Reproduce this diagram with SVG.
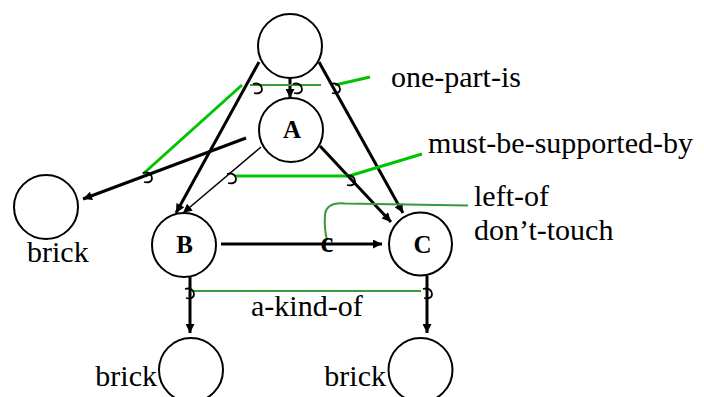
<svg xmlns="http://www.w3.org/2000/svg" xmlns:xlink="http://www.w3.org/1999/xlink" width="704" height="397" viewBox="0 0 704 397">
<defs>
<style>
.node{fill:#fff;stroke:#000;stroke-width:2}
.lbl{font-family:"Liberation Serif","Times New Roman",serif;font-size:30px;fill:#000}
.nlbl{font-family:"Liberation Serif","Times New Roman",serif;font-size:25px;font-weight:bold;fill:#000;text-anchor:middle}
.thick{stroke:#000;stroke-width:3;fill:none}
.thin{stroke:#000;stroke-width:1.5;fill:none}
.g1{stroke:#00c400;stroke-width:3;fill:none}
.g2{stroke:#3a9a3a;stroke-width:2;fill:none}
.hook{stroke:#000;stroke-width:1.8;fill:none}
</style>
<marker id="ah" viewBox="0 0 10 10" refX="10" refY="5" markerWidth="11" markerHeight="9" markerUnits="userSpaceOnUse" orient="auto">
<path d="M0,0 L10,5 L0,10 z" fill="#000"/>
</marker>
<path id="hk" d="M -4 -4 C 3 -6 5 -1 5 1 C 5 5 1 6 -3 5"/>
</defs>
<rect width="704" height="397" fill="#fff"/>
<g id="connectors">
<line class="thick" x1="290" y1="78" x2="290" y2="98" marker-end="url(#ah)"/>
<line class="thick" x1="259" y1="62" x2="176" y2="213" marker-end="url(#ah)"/>
<line class="thick" x1="319" y1="62" x2="403" y2="213" marker-end="url(#ah)"/>
<line class="thin" x1="261" y1="147" x2="183" y2="213" marker-end="url(#ah)"/>
<line class="thick" x1="320" y1="146" x2="391" y2="222" marker-end="url(#ah)"/>
<line class="thick" x1="246" y1="138" x2="83" y2="199" marker-end="url(#ah)"/>
<line class="thick" x1="221" y1="244" x2="382" y2="244" marker-end="url(#ah)"/>
<line class="thick" x1="190" y1="277" x2="190" y2="333" marker-end="url(#ah)"/>
<line class="thick" x1="427" y1="276" x2="427" y2="333" marker-end="url(#ah)"/>
<line class="g2" x1="250" y1="85" x2="321" y2="85"/>
<line class="g1" x1="335" y1="85" x2="370" y2="77"/>
<line class="g1" x1="242" y1="85" x2="143" y2="174"/>
<line class="g1" x1="235" y1="176" x2="348" y2="176"/>
<line class="g1" x1="349" y1="176" x2="422" y2="154"/>
<path class="g2" d="M 468 205.5 L 345 203.5 Q 326 202 325 215 Q 324 229 327 240"/>
<line class="g2" x1="193" y1="291" x2="421" y2="291"/>
<g class="hook">
<use xlink:href="#hk" x="257" y="88"/>
<use xlink:href="#hk" x="297" y="88"/>
<use xlink:href="#hk" x="335" y="88"/>
<use xlink:href="#hk" x="147" y="177"/>
<use xlink:href="#hk" x="231" y="178"/>
<use xlink:href="#hk" x="350" y="180"/>
<use xlink:href="#hk" x="189" y="293"/>
<use xlink:href="#hk" x="427" y="293"/>
</g>
<text class="nlbl" x="327" y="252" style="font-size:29px">c</text>
</g>
<g id="top"><circle class="node" cx="290" cy="46" r="32"/></g>
<g id="A"><circle class="node" cx="291" cy="130" r="32"/><text class="nlbl" x="292" y="138">A</text></g>
<g id="B"><circle class="node" cx="184" cy="245" r="32"/><text class="nlbl" x="184.5" y="253">B</text></g>
<g id="C"><circle class="node" cx="420.5" cy="244" r="31.5"/><text class="nlbl" x="422.5" y="253">C</text></g>
<g id="brick-left"><circle class="node" cx="46" cy="207" r="32"/><text class="lbl" x="27" y="262">brick</text></g>
<g id="brick-bl"><circle class="node" cx="191" cy="370" r="32"/><text class="lbl" x="157" y="386" text-anchor="end">brick</text></g>
<g id="brick-br"><circle class="node" cx="420.5" cy="370" r="32"/><text class="lbl" x="386" y="386" text-anchor="end">brick</text></g>
<g id="labels">
<text class="lbl" x="391" y="87">one-part-is</text>
<text class="lbl" x="428" y="153">must-be-supported-by</text>
<text class="lbl" x="474" y="206">left-of</text>
<text class="lbl" x="474" y="240">don’t-touch</text>
<text class="lbl" x="251" y="316">a-kind-of</text>
</g>
</svg>
